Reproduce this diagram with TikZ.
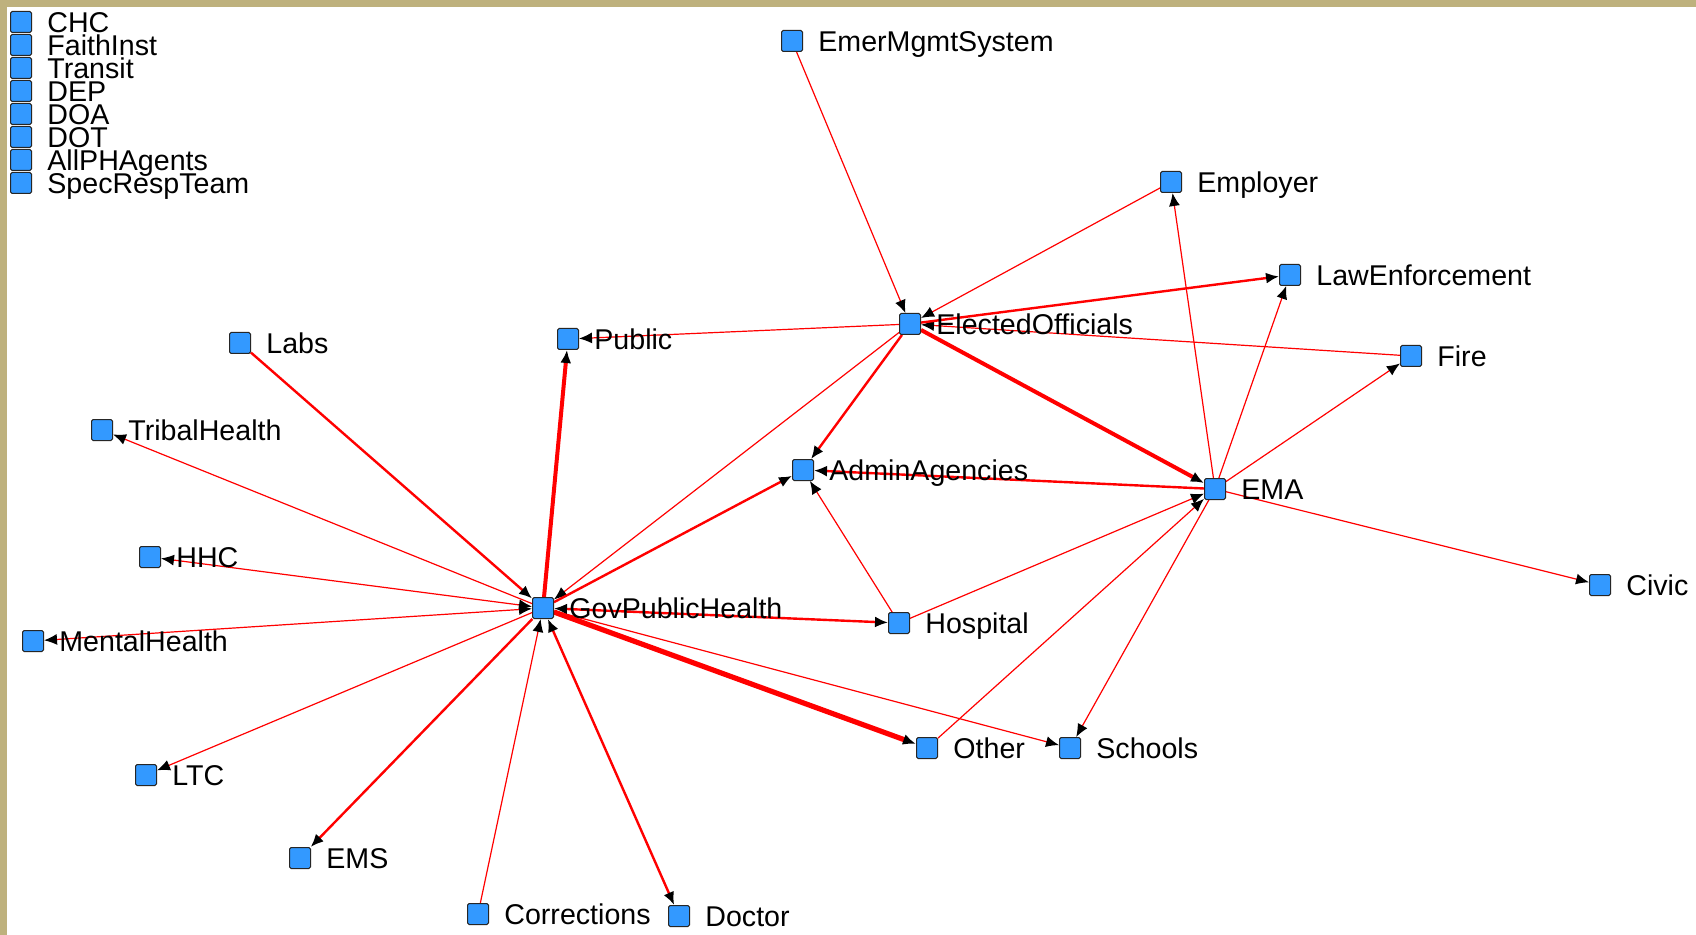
\documentclass[tikz,border=0pt]{standalone}
\usepackage{fontspec}
\setmainfont{Liberation Sans}
\usetikzlibrary{arrows.meta,backgrounds}
\definecolor{nodeblue}{RGB}{51,153,255}
\definecolor{frametan}{RGB}{190,177,125}
\definecolor{linkred}{RGB}{255,0,0}

\tikzset{
    actor/.style={draw=black!85, fill=nodeblue, line width=0.5pt, rounded corners=0.8pt,
        minimum size=10.5pt, inner sep=0pt,
        label={[inner sep=0pt, label distance=7.5pt, text height=13.2pt, text depth=3pt,
            font=\fontsize{14.3}{17}\selectfont]right:#1}},
    tip/.style={-{Latex[black,length=6.5pt,width=5.5pt]}},
    twotips/.style={{Latex[black,length=6.5pt,width=5.5pt]}-{Latex[black,length=6.5pt,width=5.5pt]}},
    thinlink/.style={linkred, line width=0.6pt, tip},
    midlink/.style={linkred, line width=1.2pt, tip},
    thicklink/.style={linkred, line width=2pt, tip},
    heavylink/.style={linkred, line width=2.6pt, tip},
}

\begin{document}
\begin{tikzpicture}[x=0.5pt,y=-0.5pt]
    \useasboundingbox (0,0) rectangle (1696,935);

    % isolates
    \foreach \name/\txt [count=\i from 0] in {chc/CHC, faith/FaithInst, transit/Transit, dep/DEP,
        doa/DOA, dot/DOT, allph/AllPHAgents, specresp/SpecRespTeam} {
        \node[actor=\txt] (\name) at (21,22+23*\i) {};
    }

    \node[actor=EmerMgmtSystem] (emer) at (792,41) {};
    \node[actor=Employer] (employer) at (1171,182) {};
    \node[actor=LawEnforcement] (law) at (1290,275) {};
    \node[actor=Fire] (fire) at (1411,356) {};
    \node[actor=EMA] (ema) at (1215,489) {};
    \node[actor=ElectedOfficials] (elected) at (910,324) {};
    \node[actor=AdminAgencies] (admin) at (803,470) {};
    \node[actor=Public] (public) at (568,339) {};
    \node[actor=GovPublicHealth] (gph) at (543,608) {};
    \node[actor=Hospital] (hospital) at (899,623) {};
    \node[actor=Other] (other) at (927,748) {};
    \node[actor=Schools] (schools) at (1070,748) {};
    \node[actor=Civic] (civic) at (1600,585) {};
    \node[actor=Labs] (labs) at (240,343) {};
    \node[actor=TribalHealth] (tribal) at (102,430) {};
    \node[actor=HHC] (hhc) at (150,557) {};
    \node[actor=MentalHealth] (mental) at (33,641) {};
    \node[actor=LTC] (ltc) at (146,775) {};
    \node[actor=EMS] (ems) at (300,858) {};
    \node[actor=Corrections] (corrections) at (478,914) {};
    \node[actor=Doctor] (doctor) at (679,916) {};

    \begin{pgfonlayer}{background}
        \fill[white] (0,0) rectangle (1696,935);
        \fill[frametan] (0,0) rectangle (1696,7);
        \fill[frametan] (0,0) rectangle (7,935);

        \foreach \a/\b in {emer/elected, employer/elected, fire/elected, elected/public,
            elected/gph, hospital/admin, gph/tribal, gph/ltc, corrections/gph, gph/schools,
            hospital/ema, other/ema, ema/schools, ema/employer, ema/law, ema/fire, ema/civic} {
            \draw[thinlink] (\a) -- (\b);
        }
        \foreach \a in {hhc, mental} {
            \draw[thinlink, twotips] (gph) -- (\a);
        }
        \foreach \a/\b in {elected/admin, elected/law, gph/admin, labs/gph, gph/ems, ema/admin} {
            \draw[midlink] (\a) -- (\b);
        }
        \draw[midlink, twotips] (gph) -- (doctor);
        \draw[midlink, twotips] (gph) -- (hospital);
        \draw[thicklink] (gph) -- (public);
        \draw[thicklink] (elected) -- (ema);
        \draw[heavylink] (gph) -- (other);
    \end{pgfonlayer}
\end{tikzpicture}
\end{document}
